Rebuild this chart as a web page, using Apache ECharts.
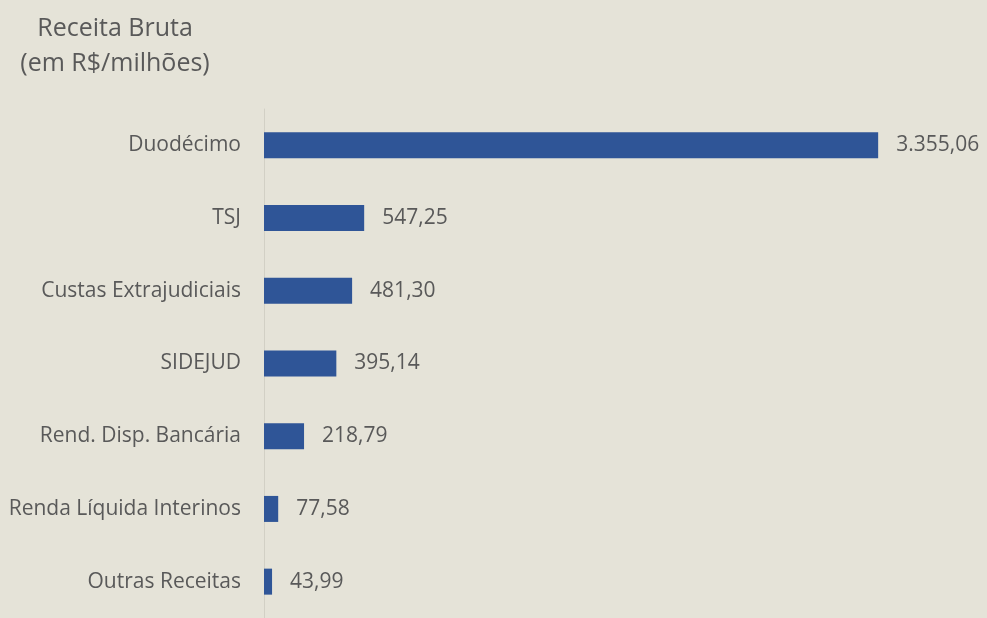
<!DOCTYPE html>
<html>
<head>
<meta charset="utf-8">
<script src="https://cdn.jsdelivr.net/npm/echarts@6/dist/echarts.min.js"></script>
<style>
  html, body { margin: 0; padding: 0; background: #e5e3d8; }
  #chart { width: 987px; height: 618px; }
</style>
</head>
<body>
<div id="chart"></div>
<script>
// Receita Bruta (R$ milhões), top to bottom as drawn
const categories = ['Duodécimo', 'TSJ', 'Custas Extrajudiciais', 'SIDEJUD', 'Rend. Disp. Bancária', 'Renda Líquida Interinos', 'Outras Receitas'];
const values = [3355.06, 547.25, 481.30, 395.14, 218.79, 77.58, 43.99];

// pt-BR number format: 3.355,06
function fmtBR(v) {
    const parts = v.toFixed(2).split('.');
    const intPart = parts[0].replace(/\B(?=(\d{3})+(?!\d))/g, '.');
    return intPart + ',' + parts[1];
}

const chart = echarts.init(document.getElementById('chart'));
const textColor = '#595959';
const font = '"Open Sans", Lato, sans-serif';

chart.setOption({
    backgroundColor: '#e5e3d8',
    animation: false,
    title: {
        text: 'Receita Bruta\n(em R$/milhões)',
        left: 110, top: 6,
        textAlign: 'center',
        textStyle: { color: textColor, fontSize: 25, fontWeight: 'normal', fontFamily: font, lineHeight: 35 }
    },
    grid: { left: 264, right: 64, top: 109, bottom: -4, containLabel: false },
    xAxis: {
        type: 'value', min: 0, max: 3600,
        show: false
    },
    yAxis: {
        type: 'category',
        data: categories,
        inverse: true,
        axisTick: { show: false },
        axisLine: { show: true, lineStyle: { color: '#d2d0c5', width: 1 } },
        axisLabel: { color: textColor, fontSize: 21, fontFamily: font, margin: 23 }
    },
    series: [{
        type: 'bar',
        data: values,
        barWidth: 26,
        itemStyle: { color: '#2f5597' },
        label: {
            show: true, position: 'right', distance: 18,
            color: textColor, fontSize: 21, fontFamily: font,
            formatter: p => fmtBR(p.value)
        }
    }]
});

window.addEventListener('resize', () => chart.resize());
</script>
</body>
</html>
